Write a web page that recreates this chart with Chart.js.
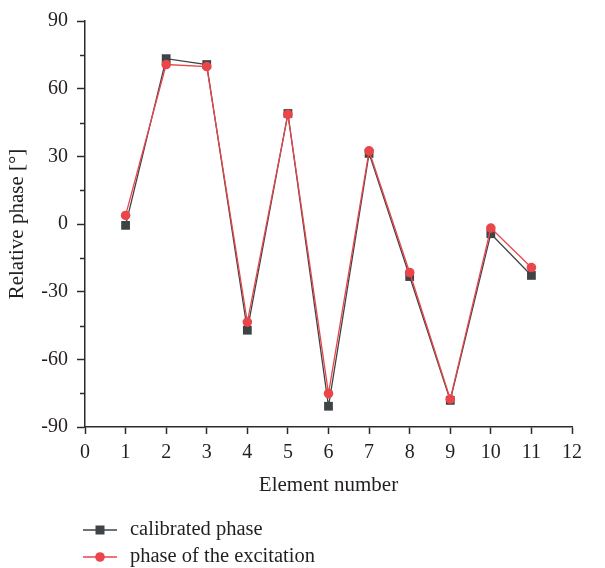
<!DOCTYPE html>
<html>
<head>
<meta charset="utf-8">
<script src="https://cdn.jsdelivr.net/npm/chart.js@4.4.1/dist/chart.umd.min.js"></script>
<style>
  html, body { margin: 0; padding: 0; background: #fff; }
  #wrap { width: 605px; height: 568px; }
</style>
</head>
<body>
<div id="wrap"><canvas id="c" width="605" height="568"></canvas></div>
<script>
// Element indices along the array
const elements = [1, 2, 3, 4, 5, 6, 7, 8, 9, 10, 11];
// Phase measured after calibration [deg]
const calibratedPhase = [-0.6, 73.3, 70.7, -47.1, 49.0, -80.8, 31.3, -23.3, -78.2, -4.3, -22.8];
// Phase applied to the excitation [deg]
const excitationPhase = [3.8, 70.7, 69.8, -43.5, 48.6, -75.2, 32.4, -21.5, -77.6, -1.8, -19.3];
// Axis tick values
const xTicks = [0, 1, 2, 3, 4, 5, 6, 7, 8, 9, 10, 11, 12];
const yTicks = [-90, -75, -60, -45, -30, -15, 0, 15, 30, 45, 60, 75, 90];
const seriesNames = ['calibrated phase', 'phase of the excitation'];

const FONT = '"Liberation Serif", "DejaVu Serif", serif';
const TEXT = '#231f20';
const AXIS = '#2b2b2b';
const GRAY = '#3e4346';
const RED = '#ea4549';

function toPoints(ys) {
  return elements.map((x, i) => ({ x: x, y: ys[i] }));
}

// Short ticks at the odd multiples of 15 on the y axis
const minorTicks = {
  id: 'minorTicks',
  afterDraw(chart) {
    const y = chart.scales.y;
    const ctx = chart.ctx;
    ctx.save();
    ctx.strokeStyle = AXIS;
    ctx.lineWidth = 1.5;
    yTicks.forEach(v => {
      if (v % 30 === 0) return;
      const py = Math.round(y.getPixelForValue(v)) + 0.5;
      ctx.beginPath();
      ctx.moveTo(y.right, py);
      ctx.lineTo(y.right - 5, py);
      ctx.stroke();
    });
    ctx.restore();
  }
};

// Stacked legend below the x axis title
const stackedLegend = {
  id: 'stackedLegend',
  afterDraw(chart) {
    const ctx = chart.ctx;
    const rows = [chart.height - 38, chart.height - 11];
    ctx.save();
    chart.data.datasets.forEach((ds, i) => {
      const yy = rows[i];
      ctx.strokeStyle = ds.borderColor;
      ctx.lineWidth = ds.borderWidth;
      ctx.beginPath();
      ctx.moveTo(83, yy);
      ctx.lineTo(117, yy);
      ctx.stroke();
      ctx.fillStyle = ds.pointBackgroundColor;
      if (ds.pointStyle === 'rect') {
        ctx.fillRect(100 - 4.5, yy - 4.5, 9, 9);
      } else {
        ctx.beginPath();
        ctx.arc(100, yy, 4.8, 0, Math.PI * 2);
        ctx.fill();
      }
      ctx.fillStyle = TEXT;
      ctx.font = '20.5px ' + FONT;
      ctx.textBaseline = 'middle';
      ctx.textAlign = 'left';
      ctx.fillText(ds.label, 130, yy);
    });
    ctx.restore();
  }
};

new Chart(document.getElementById('c'), {
  type: 'line',
  data: {
    datasets: [
      {
        label: seriesNames[0],
        data: toPoints(calibratedPhase),
        borderColor: GRAY,
        backgroundColor: GRAY,
        pointBackgroundColor: GRAY,
        pointBorderColor: GRAY,
        pointStyle: 'rect',
        pointRadius: 6.2,
        pointBorderWidth: 0,
        borderWidth: 1.3,
        order: 1
      },
      {
        label: seriesNames[1],
        data: toPoints(excitationPhase),
        borderColor: RED,
        backgroundColor: RED,
        pointBackgroundColor: RED,
        pointBorderColor: RED,
        pointStyle: 'circle',
        pointRadius: 4.8,
        pointBorderWidth: 0,
        borderWidth: 1.3,
        order: 0
      }
    ]
  },
  options: {
    responsive: false,
    animation: false,
    events: [],
    layout: { padding: { left: 0, right: 33, top: 17, bottom: 70 } },
    plugins: {
      legend: { display: false },
      tooltip: { enabled: false }
    },
    scales: {
      x: {
        type: 'linear',
        min: xTicks[0],
        max: xTicks[xTicks.length - 1],
        afterBuildTicks: s => { s.ticks = xTicks.map(v => ({ value: v })); },
        afterFit: s => { s.height = 71; },
        border: { display: true, color: AXIS, width: 1.5 },
        grid: { drawOnChartArea: false, drawTicks: true, tickLength: 7, tickColor: AXIS, tickWidth: 1.5 },
        ticks: { color: TEXT, font: { family: FONT, size: 20 }, padding: 7, maxRotation: 0, autoSkip: false },
        title: { display: true, text: 'Element number', color: TEXT, font: { family: FONT, size: 21 }, padding: { top: 0, bottom: 0 } }
      },
      y: {
        type: 'linear',
        min: yTicks[0],
        max: yTicks[yTicks.length - 1],
        afterBuildTicks: s => { s.ticks = yTicks.map(v => ({ value: v })); },
        afterFit: s => { s.width = 85; },
        border: { display: true, color: AXIS, width: 1.5 },
        grid: {
          drawOnChartArea: false, drawTicks: true, tickLength: 8, tickWidth: 1.5,
          tickColor: c => (c.tick && c.tick.value % 30 !== 0) ? 'rgba(0,0,0,0)' : AXIS
        },
        ticks: {
          color: TEXT, font: { family: FONT, size: 20 }, padding: 9, autoSkip: false,
          callback: v => (v % 30 === 0 ? String(v) : '')
        },
        title: { display: true, text: 'Relative phase [°]', color: TEXT, font: { family: FONT, size: 21 }, padding: { top: 4.5, bottom: 0 } }
      }
    }
  },
  plugins: [minorTicks, stackedLegend]
});
</script>
</body>
</html>
